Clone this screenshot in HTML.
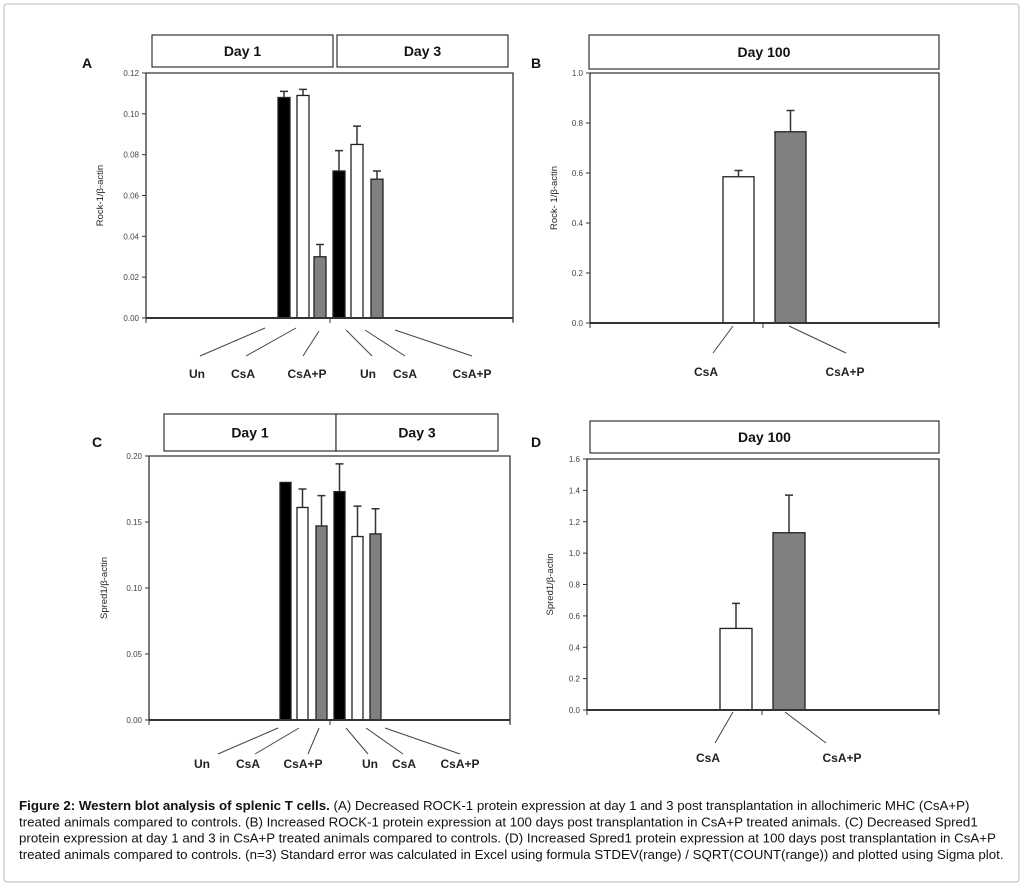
<!DOCTYPE html>
<html><head><meta charset="utf-8"><style>
html,body{margin:0;padding:0;background:#fff}
svg{display:block}
.tk{font:8px "Liberation Sans",sans-serif;fill:#444}
.yt{font:9.5px "Liberation Sans",sans-serif;fill:#222}
.hd{font:bold 14px "Liberation Sans",sans-serif;fill:#111}
.cat{font:bold 12px "Liberation Sans",sans-serif;fill:#222}
.pl{font:bold 14px "Liberation Sans",sans-serif;fill:#111}
.cap{font:13.3px "Liberation Sans",sans-serif;fill:#111}
</style></head><body>
<svg id="fig" width="1024" height="887" xmlns="http://www.w3.org/2000/svg">
<rect x="4" y="4" width="1015" height="878" rx="3" fill="none" stroke="#bbb"/>
<text class="cap" y="810">
<tspan x="19"><tspan font-weight="bold">Figure 2: Western blot analysis of splenic T cells.</tspan>  (A) Decreased ROCK-1 protein expression at day 1 and 3 post transplantation in allochimeric MHC (CsA+P)</tspan>
<tspan x="19" dy="16.3">treated animals compared to controls. (B) Increased ROCK-1 protein expression at 100 days post transplantation in CsA+P treated animals. (C) Decreased Spred1</tspan>
<tspan x="19" dy="16.3">protein expression at day 1 and 3 in CsA+P treated animals compared to controls. (D) Increased Spred1 protein expression at 100 days post transplantation in CsA+P</tspan>
<tspan x="19" dy="16.3">treated animals compared to controls. (n=3) Standard error was calculated in Excel using formula STDEV(range) / SQRT(COUNT(range)) and plotted using Sigma plot.</tspan>
</text>
</svg>
<script>
// Panel A data
const aCategories = ["Un","CsA","CsA+P","Un","CsA","CsA+P"];
const aValues = [0.108,0.109,0.030,0.072,0.085,0.068];
const aErrors = [0.003,0.003,0.006,0.010,0.009,0.004];
const aTicks = ["0.00","0.02","0.04","0.06","0.08","0.10","0.12"];
// Panel B data
const bCategories = ["CsA","CsA+P"];
const bValues = [0.585,0.765];
const bErrors = [0.025,0.085];
const bTicks = ["0.0","0.2","0.4","0.6","0.8","1.0"];
// Panel C data
const cCategories = ["Un","CsA","CsA+P","Un","CsA","CsA+P"];
const cValues = [0.180,0.161,0.147,0.173,0.139,0.141];
const cErrors = [0.000,0.014,0.023,0.021,0.023,0.019];
const cTicks = ["0.00","0.05","0.10","0.15","0.20"];
// Panel D data
const dCategories = ["CsA","CsA+P"];
const dValues = [0.52,1.13];
const dErrors = [0.16,0.24];
const dTicks = ["0.0","0.2","0.4","0.6","0.8","1.0","1.2","1.4","1.6"];

const svg = document.getElementById('fig');
const NS = 'http://www.w3.org/2000/svg';
function mk(tag, attrs, parent){
  const e = document.createElementNS(NS, tag);
  for (const k in attrs) e.setAttribute(k, attrs[k]);
  (parent||svg).appendChild(e);
  return e;
}
const fills6 = ['#000','#fff','#808080','#000','#fff','#808080'];
const fills2 = ['#fff','#808080'];

function panel(p){
  const g = mk('g', {});
  
  
  const lbl = mk('text', {x:p.letterX, y:p.letterY, class:'pl'}, g);
  lbl.textContent = p.id.toUpperCase();
  
  
  p.headers.forEach(h => {
    const r = mk('rect', {x:h.x0, y:h.y0, width:h.x1-h.x0, height:h.y1-h.y0, fill:'#fff', stroke:'#333', 'stroke-width':1.2}, g);
    
    
    const t = mk('text', {x:(h.x0+h.x1)/2, y:(h.y0+h.y1)/2+5, class:'hd', 'text-anchor':'middle'}, g);
    t.textContent = h.text;
    
    
  });
  const {L,T,R,B,max} = p;
  const y = v => B - v/max*(B-T);
  const fr = mk('path', {d:`M${L},${B} L${L},${T} L${R},${T} L${R},${B+4}`, fill:'none', stroke:'#333', 'stroke-width':1.3}, g);
  
  
  p.ticks.forEach((t,i) => {
    const v = parseFloat(t);
    const ty = y(v);
    mk('line', {x1:L-4, x2:L, y1:ty, y2:ty, stroke:'#333'}, g);
    const tx = mk('text', {x:L-7, y:ty+3, class:'tk', 'text-anchor':'end'}, g);
    tx.textContent = t;
    
    
  });
  const yt = mk('text', {x:0, y:0, class:'yt', 'text-anchor':'middle', transform:`translate(${p.ytX},${(T+B)/2}) rotate(-90)`}, g);
  yt.textContent = p.ytitle;
  
  
  p.values.forEach((v,i) => {
    const x0 = p.barX[i], w = p.barW;
    const cx = x0 + w/2;
    if (p.errors[i] > 0) {
      const et = y(v + p.errors[i]);
      const el = mk('path', {d:`M${cx},${y(v)} L${cx},${et} M${cx-4},${et} L${cx+4},${et}`, stroke:'#333', 'stroke-width':1.5, fill:'none'}, g);
      
      
    }
    const r = mk('rect', {x:x0, y:y(v), width:w, height:B-y(v), fill:p.fills[i], stroke:'#222', 'stroke-width':1.3}, g);
    
    
  });
  const ax = mk('line', {x1:L, x2:R, y1:B, y2:B, stroke:'#333', 'stroke-width':2}, g);
  
  
  p.xticks.forEach(xx => mk('line', {x1:xx, x2:xx, y1:B, y2:B+5, stroke:'#333'}, g));
  p.leaders.forEach((ld,i) => {
    const l = mk('line', {x1:ld[0], y1:ld[1], x2:ld[2], y2:ld[3], stroke:'#444', 'stroke-width':1}, g);
    
    
  });
  p.categories.forEach((c,i) => {
    const t = mk('text', {x:p.catX[i], y:p.catY, class:'cat', 'text-anchor':'middle'}, g);
    t.textContent = c;
    
    
  });
}

panel({id:'a', letterX:82, letterY:68, headers:[{x0:152,y0:35,x1:333,y1:67,text:'Day 1'},{x0:337,y0:35,x1:508,y1:67,text:'Day 3'}],
  L:146,T:73,R:513,B:318,max:0.12,ticks:aTicks,ytitle:'Rock-1/β-actin',ytX:103,
  values:aValues,errors:aErrors,categories:aCategories,fills:fills6,barW:12,barX:[278,297,314,333,351,371],
  xticks:[146,330,513],
  leaders:[[265,328,200,356],[296,328,246,356],[319,331,303,356],[346,330,372,356],[365,330,405,356],[395,330,472,356]],
  catX:[197,243,307,368,405,472],catY:378});
panel({id:'b', letterX:531, letterY:68, headers:[{x0:589,y0:35,x1:939,y1:69,text:'Day 100'}],
  L:590,T:73,R:939,B:323,max:1.0,ticks:bTicks,ytitle:'Rock- 1/β-actin',ytX:557,
  values:bValues,errors:bErrors,categories:bCategories,fills:fills2,barW:31,barX:[723,775],
  xticks:[590,763,939],
  leaders:[[733,326,713,353],[789,326,846,353]],
  catX:[706,845],catY:376});
panel({id:'c', letterX:92, letterY:447, headers:[{x0:164,y0:414,x1:336,y1:451,text:'Day 1'},{x0:336,y0:414,x1:498,y1:451,text:'Day 3'}],
  L:149,T:456,R:510,B:720,max:0.20,ticks:cTicks,ytitle:'Spred1/β-actin',ytX:107,
  values:cValues,errors:cErrors,categories:cCategories,fills:fills6,barW:11,barX:[280,297,316,334,352,370],
  xticks:[149,330,510],
  leaders:[[278,728,218,754],[299,728,255,754],[319,728,308,754],[346,728,368,754],[366,728,403,754],[385,728,460,754]],
  catX:[202,248,303,370,404,460],catY:768});
panel({id:'d', letterX:531, letterY:447, headers:[{x0:590,y0:421,x1:939,y1:453,text:'Day 100'}],
  L:587,T:459,R:939,B:710,max:1.6,ticks:dTicks,ytitle:'Spred1/β-actin',ytX:553,
  values:dValues,errors:dErrors,categories:dCategories,fills:fills2,barW:32,barX:[720,773],
  xticks:[587,762,939],
  leaders:[[733,712,715,743],[785,712,826,743]],
  catX:[708,842],catY:762});
</script>
</body></html>
